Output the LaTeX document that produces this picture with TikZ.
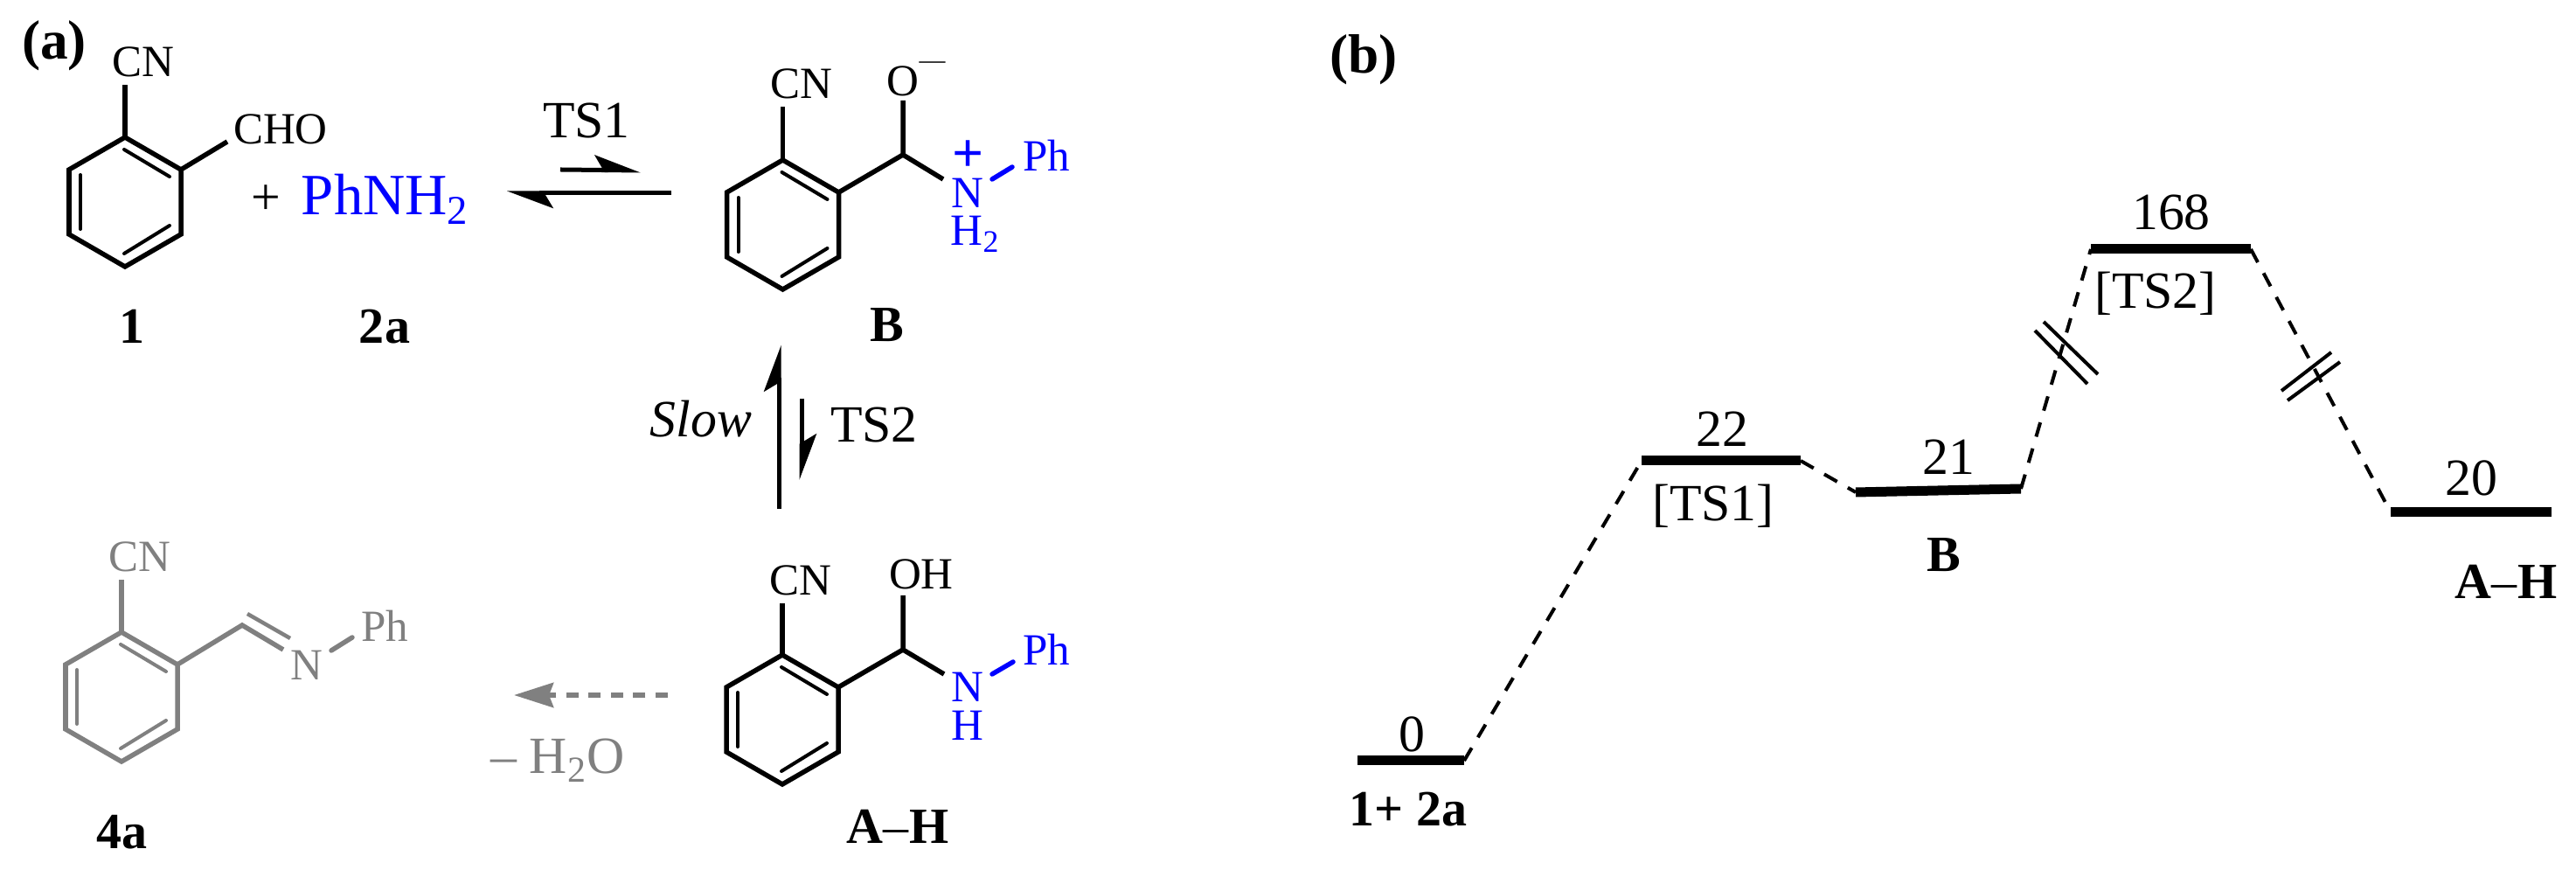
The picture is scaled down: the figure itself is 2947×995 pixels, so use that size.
\documentclass[tikz,border=0pt]{standalone}
\usepackage{fontspec}
\setmainfont{Liberation Serif}
\usetikzlibrary{arrows.meta}
\definecolor{fadedgray}{RGB}{128,128,128}
\definecolor{aminblue}{RGB}{0,0,255}
\tikzset{
  bond/.style={line width=0.055cm},
  innerbond/.style={line width=0.04cm,line cap=round},
  atom/.style={font=\fontsize{14.5}{16}\selectfont,inner sep=0.08cm,anchor=base},
  tightatom/.style={atom,inner sep=0pt,text=aminblue},
  tag/.style={font=\fontsize{17}{19}\selectfont,inner sep=0pt,anchor=base},
  cmpd/.style={font=\fontsize{16.5}{18}\selectfont\bfseries,inner sep=0pt,anchor=base},
  panel/.style={font=\fontsize{18}{20}\selectfont\bfseries,inner sep=0pt},
  harpoon/.style={line width=0.05cm,-{Stealth[left,length=0.46cm,width=0.34cm,inset=0.1cm]}},
  level/.style={line width=0.11cm},
  link/.style={line width=0.04cm,dash pattern=on 0.17cm off 0.14cm},
  breakmark/.style={line width=0.04cm}
}
\begin{document}
\begin{tikzpicture}[x=0.01cm,y=-0.01cm]
  \useasboundingbox (0,0) rectangle (2947,995);
  % rings
  \foreach \rname/\cx/\cy/\rcol in {ra/143/231/black,rb/895.5/257/black,rc/139/797/fadedgray,rd/895/823/black}{
    \begin{scope}[shift={(\cx,\cy)}]
      \coordinate (\rname-t) at (0,-74);
      \coordinate (\rname-ur) at (64,-37);
      \coordinate (\rname-lr) at (64,37);
      \coordinate (\rname-b) at (0,74);
      \coordinate (\rname-ll) at (-64,37);
      \coordinate (\rname-ul) at (-64,-37);
      \draw[bond,\rcol] (\rname-t) -- (\rname-ur) -- (\rname-lr) -- (\rname-b) -- (\rname-ll) -- (\rname-ul) -- cycle;
      \draw[innerbond,\rcol] (-51,-31) -- (-51,31);
      \draw[innerbond,\rcol] (-1,-60) -- (51,-29);
      \draw[innerbond,\rcol] (51,27) -- (-1,59);
    \end{scope}
  }
  % panel (a)
  \node[panel] (pa) at (62,52) {(a)};
  \node[atom] (cna) at (164,88) {CN};
  \draw[bond] (ra-t) -- (ra-t |- cna.south);
  \node[atom] (cho) at (321,165) {CHO};
  \coordinate (choend) at (260,162);
  \draw[bond] (ra-ur) -- (choend);
  \node[tag] (plus) at (304,246) {+};
  \node[tag,font=\fontsize{19}{21}\selectfont,text=aminblue] (amine) at (441,246) {PhNH\textsubscript{2}};
  \node[cmpd] (c1) at (151,393) {1};
  \node[cmpd] (c2a) at (440,393) {2a};
  \node[tag] (ts1) at (671,158) {TS1};
  \coordinate (eqas) at (641,194);
  \coordinate (eqae) at (733,195);
  \coordinate (eqbs) at (768,221);
  \coordinate (eqbe) at (580,221);
  \draw[harpoon] (eqas) -- (eqae);
  \draw[harpoon] (eqbs) -- (eqbe);
  % B
  \node[atom] (cnb) at (916.5,113) {CN};
  \draw[bond] (rb-t) -- (rb-t |- cnb.south);
  \coordinate (cb) at (1033,177);
  \node[atom,anchor=base west,inner sep=0pt] (ob) at (1014,110) {O\raisebox{9pt}{\fontsize{8.5}{9}\selectfont —}};
  \coordinate (obond) at (1033,115);
  \draw[bond] (rb-ur) -- (cb) -- (obond);
  \coordinate (cbn) at (1079,205);
  \draw[bond] (cb) -- (cbn);
  \node[tightatom] (nb) at (1107,238) {N};
  \node[font=\fontsize{18}{18}\selectfont\bfseries,text=aminblue,inner sep=0pt] (nplus) at (1108,179) {+};
  \node[tightatom,anchor=base west] (hb) at (1087,281) {H\textsubscript{2}};
  \node[atom,text=aminblue] (phb) at (1197,196) {Ph};
  \coordinate (nbs) at (1135,205);
  \coordinate (nbe) at (1158,191);
  \draw[bond,aminblue,line cap=round] (nbs) -- (nbe);
  \node[cmpd] (cb2) at (1015,391) {B};
  % slow step
  \coordinate (upa) at (891,582);
  \coordinate (upb) at (891,395);
  \coordinate (dna) at (917,456);
  \coordinate (dnb) at (917,549);
  \draw[harpoon] (upa) -- (upb);
  \draw[harpoon] (dna) -- (dnb);
  \node[tag,font=\fontsize{17}{19}\selectfont\itshape] (slow) at (802,500) {Slow};
  \node[tag] (ts2) at (1000,506) {TS2};
  % A-H
  \node[atom] (cnd) at (916,681) {CN};
  \draw[bond] (rd-t) -- (rd-t |- cnd.south);
  \coordinate (cd) at (1033,743);
  \node[atom] (oh) at (1054,674) {OH};
  \coordinate (ohbond) at (1033,681);
  \draw[bond] (rd-ur) -- (cd) -- (ohbond);
  \coordinate (cdn) at (1080,771);
  \draw[bond] (cd) -- (cdn);
  \node[tightatom] (nd) at (1107,803) {N};
  \node[tightatom] (hd) at (1107,847) {H};
  \node[atom,text=aminblue] (phd) at (1197,761) {Ph};
  \coordinate (nds) at (1135,771);
  \coordinate (nde) at (1159,757);
  \draw[bond,aminblue,line cap=round] (nds) -- (nde);
  \node[cmpd] (ah) at (1027,965) {A\textmd{–}H};
  % 4a
  \node[atom,text=fadedgray] (cnc) at (160,654) {CN};
  \draw[bond,fadedgray] (rc-t) -- (rc-t |- cnc.south);
  \coordinate (cc) at (277,715);
  \coordinate (cca) at (324,743);
  \coordinate (ccb) at (283,702);
  \coordinate (ccc) at (332,730);
  \draw[bond,fadedgray] (rc-ur) -- (cc) -- (cca);
  \draw[bond,fadedgray,line width=0.045cm] (ccb) -- (ccc);
  \node[atom,text=fadedgray] (nc) at (351,778) {N};
  \node[atom,text=fadedgray] (phc) at (440,734) {Ph};
  \coordinate (ncs) at (379,744);
  \coordinate (nce) at (403,729);
  \draw[bond,fadedgray,line cap=round] (ncs) -- (nce);
  \node[cmpd] (c4a) at (140,971) {4a};
  \coordinate (dasha) at (764,795);
  \coordinate (dashb) at (588,795);
  \draw[fadedgray,line width=0.06cm,dash pattern=on 0.14cm off 0.115cm,-{Stealth[length=0.45cm,width=0.28cm,inset=0.05cm]}] (dasha) -- (dashb);
  \node[tag,text=fadedgray] (water) at (638,885) {– H\textsubscript{2}O};
  % panel (b)
  \node[panel] (pb) at (1560,68) {(b)};
  \coordinate (lv0l) at (1553,870);
  \coordinate (lv0r) at (1675,870);
  \coordinate (lv1l) at (1878,527);
  \coordinate (lv1r) at (2060,527);
  \coordinate (lv2l) at (2123,563);
  \coordinate (lv2r) at (2312,559);
  \coordinate (lv3l) at (2392,285);
  \coordinate (lv3r) at (2575,285);
  \coordinate (lv4l) at (2735,586);
  \coordinate (lv4r) at (2919,586);
  \foreach \lv in {0,1,2,3,4}
    \draw[level] (lv\lv l) -- (lv\lv r);
  \draw[link] (lv0r) -- (lv1l);
  \draw[link] (lv1r) -- (lv2l);
  \draw[link] (lv2r) -- (lv3l);
  \draw[link] (lv3r) -- (lv4l);
  \node[tag] (e0) at (1615,860) {0};
  \node[tag] (e1) at (1970,511) {22};
  \node[tag] (e2) at (2229,543) {21};
  \node[tag] (e3) at (2484,263) {168};
  \node[tag] (e4) at (2827,567) {20};
  \node[tag] (tsa) at (1960,596) {[TS1]};
  \node[tag] (tsb) at (2466,353) {[TS2]};
  \node[cmpd] (lb) at (2224,654) {B};
  \node[cmpd] (lah) at (2867,685) {A\textmd{–}H};
  \node[cmpd] (lsm) at (1611,945) {1+ 2a};
  % breaks
  \coordinate (bra) at (2328,378);
  \coordinate (brb) at (2388,439);
  \coordinate (brc) at (2338,368);
  \coordinate (brd) at (2400,428);
  \coordinate (bre) at (2610,447);
  \coordinate (brf) at (2667,403);
  \coordinate (brg) at (2617,458);
  \coordinate (brh) at (2677,414);
  \draw[breakmark] (bra) -- (brb);
  \draw[breakmark] (brc) -- (brd);
  \draw[breakmark] (bre) -- (brf);
  \draw[breakmark] (brg) -- (brh);
\end{tikzpicture}
\end{document}
